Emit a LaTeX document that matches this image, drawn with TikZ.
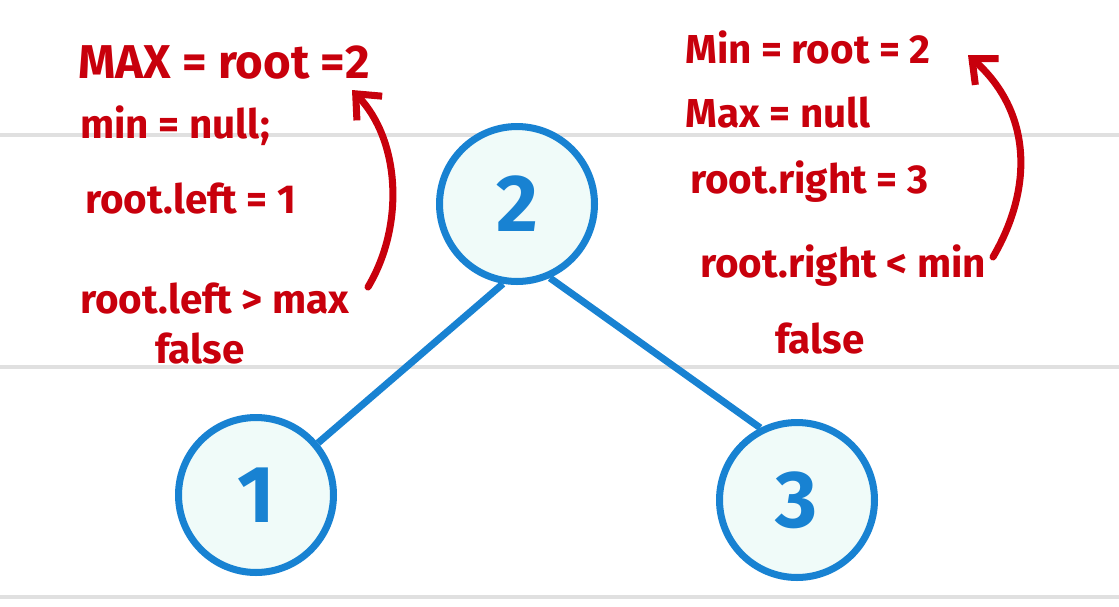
\documentclass[tikz,border=0pt]{standalone}
\usepackage{fontspec}
\setmainfont{Fira Sans}
\usepackage{tikz}
\usetikzlibrary{arrows.meta,positioning}
\definecolor{treeblue}{RGB}{24,130,210}
\definecolor{treefill}{RGB}{240,251,249}
\definecolor{notered}{RGB}{200,0,12}
\definecolor{rulegray}{RGB}{224,224,224}

\begin{document}
\begin{tikzpicture}[
    x=0.02cm, y=-0.02cm,
    tnode/.style={circle, draw=treeblue, fill=treefill, line width=4pt, minimum size=3.1cm, text=treeblue, font=\fontsize{46}{46}\selectfont\bfseries},
    edge/.style={treeblue, line width=4pt},
    note/.style={anchor=base west, inner sep=0pt, text=notered, font=\fontsize{23}{28}\selectfont\bfseries},
    arrow/.style={-{Straight Barb[length=4mm, width=7mm]}, notered, line width=4pt, line cap=round}
]
    \useasboundingbox (0,0) rectangle (1119,606);

    % Ruled lines
    \draw[rulegray, line width=2.3pt] (0,135) -- (1119,135);
    \draw[rulegray, line width=2.3pt] (0,367) -- (1119,367);
    \draw[rulegray, line width=2.3pt] (0,597) -- (1119,597);

    % Tree
    \node[tnode] (n2) at (517,204) {2};
    \node[tnode] (n1) at (256,495) {1};
    \node[tnode] (n3) at (797,500) {3};

    \draw[edge] (n2.260) -- (n1.40);
    \draw[edge] (n2.294) -- (n3.117);

    % Left notes
    \node[note, font=\fontsize{27}{30}\selectfont\bfseries] (maxL) at (78,78) {MAX = root =2};
    \node[note] (minL) at (80,138) {min = null;};
    \node[note] (leftval) at (85,213) {root.left = 1};
    \node[note] (cmpL) at (80,313) {root.left > max};
    \node[note] (falseL) at (155,363) {false};

    % Right notes
    \node[note] (minR) at (685,63) {Min = root = 2};
    \node[note] (maxR) at (685,127) {Max = null};
    \node[note] (rightval) at (690,193) {root.right = 3};
    \node[note] (cmpR) at (700,277) {root.right < min};
    \node[note] (falseR) at (775,353) {false};

    % Arrows
    \coordinate (fromL) at (368,287);
    \coordinate (toL) at (352,90);
    \coordinate (fromR) at (993,257);
    \coordinate (toR) at (968,55);
    \draw[arrow] (fromL) .. controls (405,225) and (400,140) .. (toL);
    \draw[arrow] (fromR) .. controls (1035,185) and (1030,110) .. (toR);
\end{tikzpicture}
\end{document}
